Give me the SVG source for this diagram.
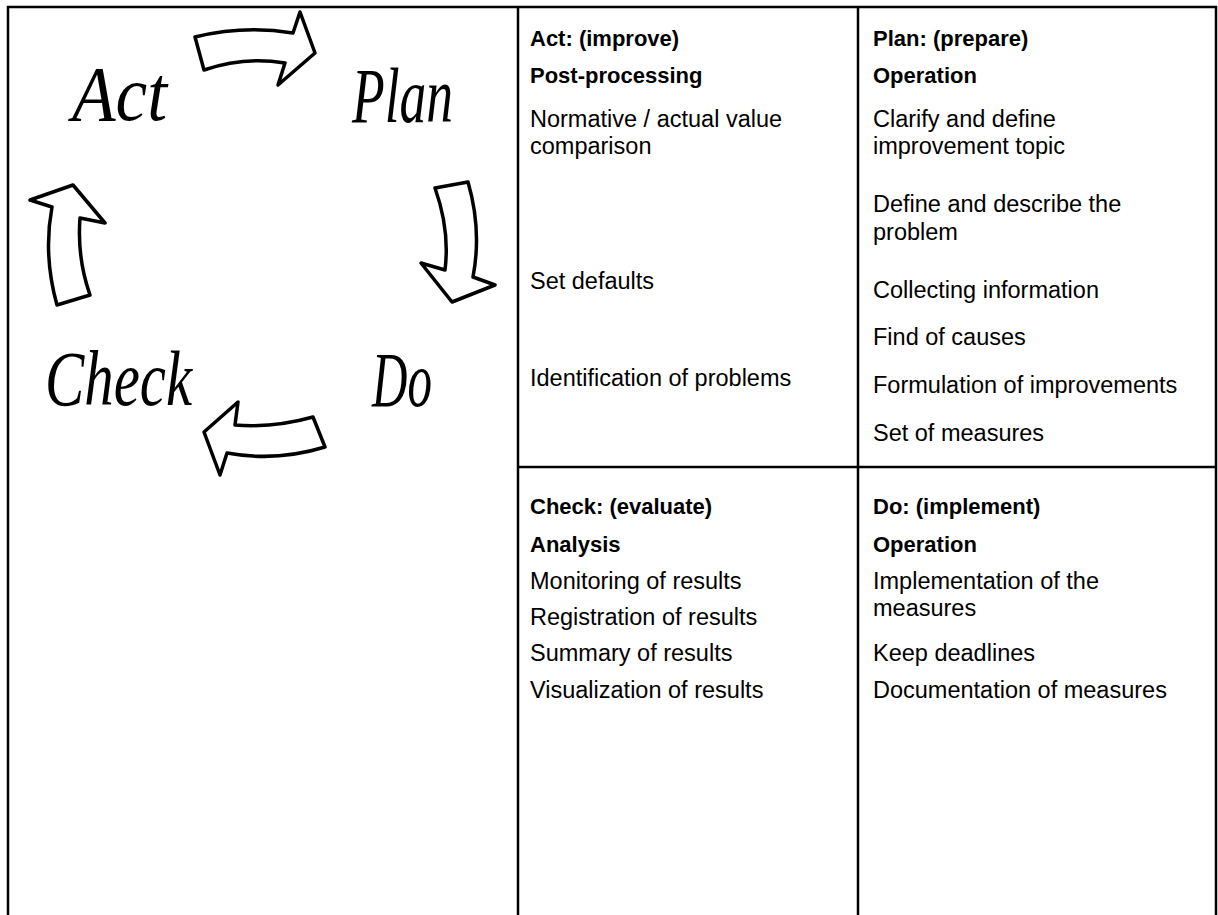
<svg xmlns="http://www.w3.org/2000/svg" width="1218" height="915" viewBox="0 0 1218 915">
<style>
.grid{stroke:#000;stroke-width:2.5;fill:none}
.arrow{fill:#fff;stroke:#000;stroke-width:3.5;stroke-linejoin:round}
.script{font-family:"Liberation Serif",serif;font-style:italic;font-size:78px;fill:#000}
.t{font-family:"Liberation Sans",Arial,sans-serif;font-size:23.5px;fill:#000}
.b{font-weight:bold;font-size:22px}
</style>
<rect width="1218" height="915" fill="#fff"/>
<g id="table">
<path class="grid" d="M8,916 V7 H1216 V916 M518,7 V916 M858,7 V916 M518,467 H1216"/>
</g>
<g id="connectors">
<path id="arrow-act-plan" class="arrow" d="M195,37 Q244,25 293,33 L300,12 L315,53 L278,85 L285,63 Q244,56 204,70 Z"/>
<path id="arrow-plan-do" class="arrow" d="M435,188 L468,182 Q482,230 473,277 L495,285 L452,302 L421,263 L445,270 Q450,230 435,188 Z"/>
<path id="arrow-do-check" class="arrow" d="M313,417 L325,447 Q276,462 227,453 L220,475 L204,432 L238,402 L235,425 Q274,428 313,417 Z"/>
<path id="arrow-check-act" class="arrow" d="M73,185 L105,223 L80,218 Q77,258 90,295 L57,305 Q43,255 52,207 L30,200 Z"/>
</g>
<g id="node-act"><text class="script" x="72" y="120" textLength="95" lengthAdjust="spacingAndGlyphs">Act</text></g>
<g id="node-plan"><text class="script" x="352" y="122" textLength="101" lengthAdjust="spacingAndGlyphs">Plan</text></g>
<g id="node-check"><text class="script" x="45" y="405" textLength="147" lengthAdjust="spacingAndGlyphs">Check</text></g>
<g id="node-do"><text class="script" x="372" y="406" textLength="60" lengthAdjust="spacingAndGlyphs">Do</text></g>
<g id="cell-act">
<text class="t b" x="530" y="46">Act: (improve)</text>
<text class="t b" x="530" y="83">Post-processing</text>
<text class="t" x="530" y="127">Normative / actual value</text>
<text class="t" x="530" y="154">comparison</text>
<text class="t" x="530" y="289">Set defaults</text>
<text class="t" x="530" y="386">Identification of problems</text>
</g>
<g id="cell-plan">
<text class="t b" x="873" y="46">Plan: (prepare)</text>
<text class="t b" x="873" y="83">Operation</text>
<text class="t" x="873" y="127">Clarify and define</text>
<text class="t" x="873" y="154">improvement topic</text>
<text class="t" x="873" y="212">Define and describe the</text>
<text class="t" x="873" y="240">problem</text>
<text class="t" x="873" y="298">Collecting information</text>
<text class="t" x="873" y="345">Find of causes</text>
<text class="t" x="873" y="393">Formulation of improvements</text>
<text class="t" x="873" y="441">Set of measures</text>
</g>
<g id="cell-check">
<text class="t b" x="530" y="514">Check: (evaluate)</text>
<text class="t b" x="530" y="552">Analysis</text>
<text class="t" x="530" y="589">Monitoring of results</text>
<text class="t" x="530" y="625">Registration of results</text>
<text class="t" x="530" y="661">Summary of results</text>
<text class="t" x="530" y="698">Visualization of results</text>
</g>
<g id="cell-do">
<text class="t b" x="873" y="514">Do: (implement)</text>
<text class="t b" x="873" y="552">Operation</text>
<text class="t" x="873" y="589">Implementation of the</text>
<text class="t" x="873" y="616">measures</text>
<text class="t" x="873" y="661">Keep deadlines</text>
<text class="t" x="873" y="698">Documentation of measures</text>
</g>
</svg>
